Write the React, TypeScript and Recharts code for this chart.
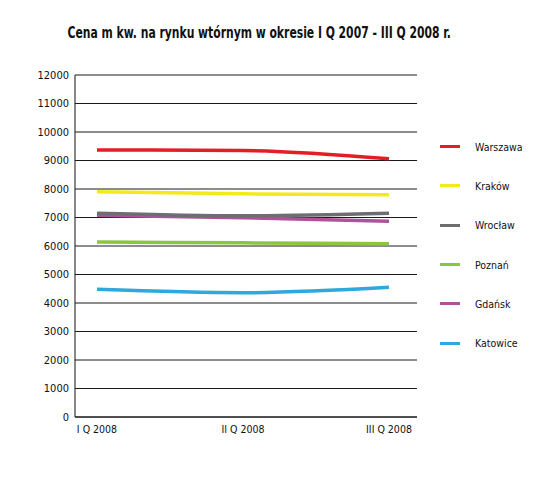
import { LineChart, Line, XAxis, YAxis, CartesianGrid } from 'recharts';

const quarters = ['I Q 2008', 'II Q 2008', 'III Q 2008'];
const yTicks = [0, 1000, 2000, 3000, 4000, 5000, 6000, 7000, 8000, 9000, 10000, 11000, 12000];

const warszawa = [9370, 9350, 9060];
const krakow = [7900, 7830, 7800];
const wroclaw = [7150, 7060, 7150];
const poznan = [6140, 6110, 6080];
const gdansk = [7080, 6990, 6870];
const katowice = [4480, 4360, 4550];

const series = [
  { key: 'Warszawa', values: warszawa, color: '#e31e24' },
  { key: 'Kraków', values: krakow, color: '#f2ea1d' },
  { key: 'Wrocław', values: wroclaw, color: '#6d6e71' },
  { key: 'Poznań', values: poznan, color: '#8cc63f' },
  { key: 'Gdańsk', values: gdansk, color: '#b0519c' },
  { key: 'Katowice', values: katowice, color: '#2ea8df' },
];

// draw order: Gdańsk under Wrocław
const drawOrder = ['Warszawa', 'Kraków', 'Gdańsk', 'Wrocław', 'Poznań', 'Katowice'];

const data = quarters.map((q, i) => {
  const row: any = { quarter: q };
  series.forEach((s) => (row[s.key] = s.values[i]));
  return row;
});

const font = '"DejaVu Sans Condensed", "Liberation Sans", sans-serif';

const CityLegend = () => (
  <div style={{ position: 'absolute', left: 432, top: 119, fontFamily: font, fontSize: 10.5, color: '#111' }}>
    {series.map((s) => (
      <div key={s.key} style={{ display: 'flex', alignItems: 'center', height: 39.3 }}>
        <span style={{ display: 'inline-block', width: 20, height: 3, background: s.color, marginRight: 15 }} />
        <span>{s.key}</span>
      </div>
    ))}
  </div>
);

export default function App() {
  return (
    <div style={{ position: 'relative', width: 538, height: 464 }}>
      <div
        style={{
          position: 'absolute',
          left: 0,
          width: 500,
          top: 15,
          textAlign: 'center',
          whiteSpace: 'nowrap',
          fontFamily: font,
          fontWeight: 'bold',
          fontSize: 16,
          color: '#111',
          transform: 'scaleX(0.75)',
          transformOrigin: '238px 0',
        }}
      >
        Cena m kw. na rynku wtórnym w okresie I Q 2007 - III Q 2008 r.
      </div>
      <LineChart width={538} height={464} data={data} margin={{ top: 67, right: 129, bottom: 25, left: 0 }}>
        <CartesianGrid vertical={false} stroke="#1a1a1a" strokeWidth={1} />
        <XAxis
          dataKey="quarter"
          padding={{ left: 22, right: 28 }}
          tickSize={0}
          tickMargin={9}
          height={30}
          axisLine={{ stroke: '#111' }}
          tick={{ fontFamily: font, fontSize: 10.5, fill: '#111' }}
        />
        <YAxis
          domain={[0, 12000]}
          ticks={yTicks}
          interval={0}
          width={67}
          tickSize={0}
          tickMargin={6}
          axisLine={{ stroke: '#111' }}
          tick={{ fontFamily: font, fontSize: 11, fill: '#111' }}
        />
        <YAxis yAxisId="r" orientation="right" width={0} tick={false} tickLine={false} axisLine={{ stroke: '#999' }} />
        {drawOrder.map((k) => {
          const s = series.find((x) => x.key === k)!;
          return (
            <Line
              key={k}
              type="monotone"
              dataKey={k}
              stroke={s.color}
              strokeWidth={3.5}
              dot={false}
              isAnimationActive={false}
            />
          );
        })}
      </LineChart>
      <CityLegend />
    </div>
  );
}
